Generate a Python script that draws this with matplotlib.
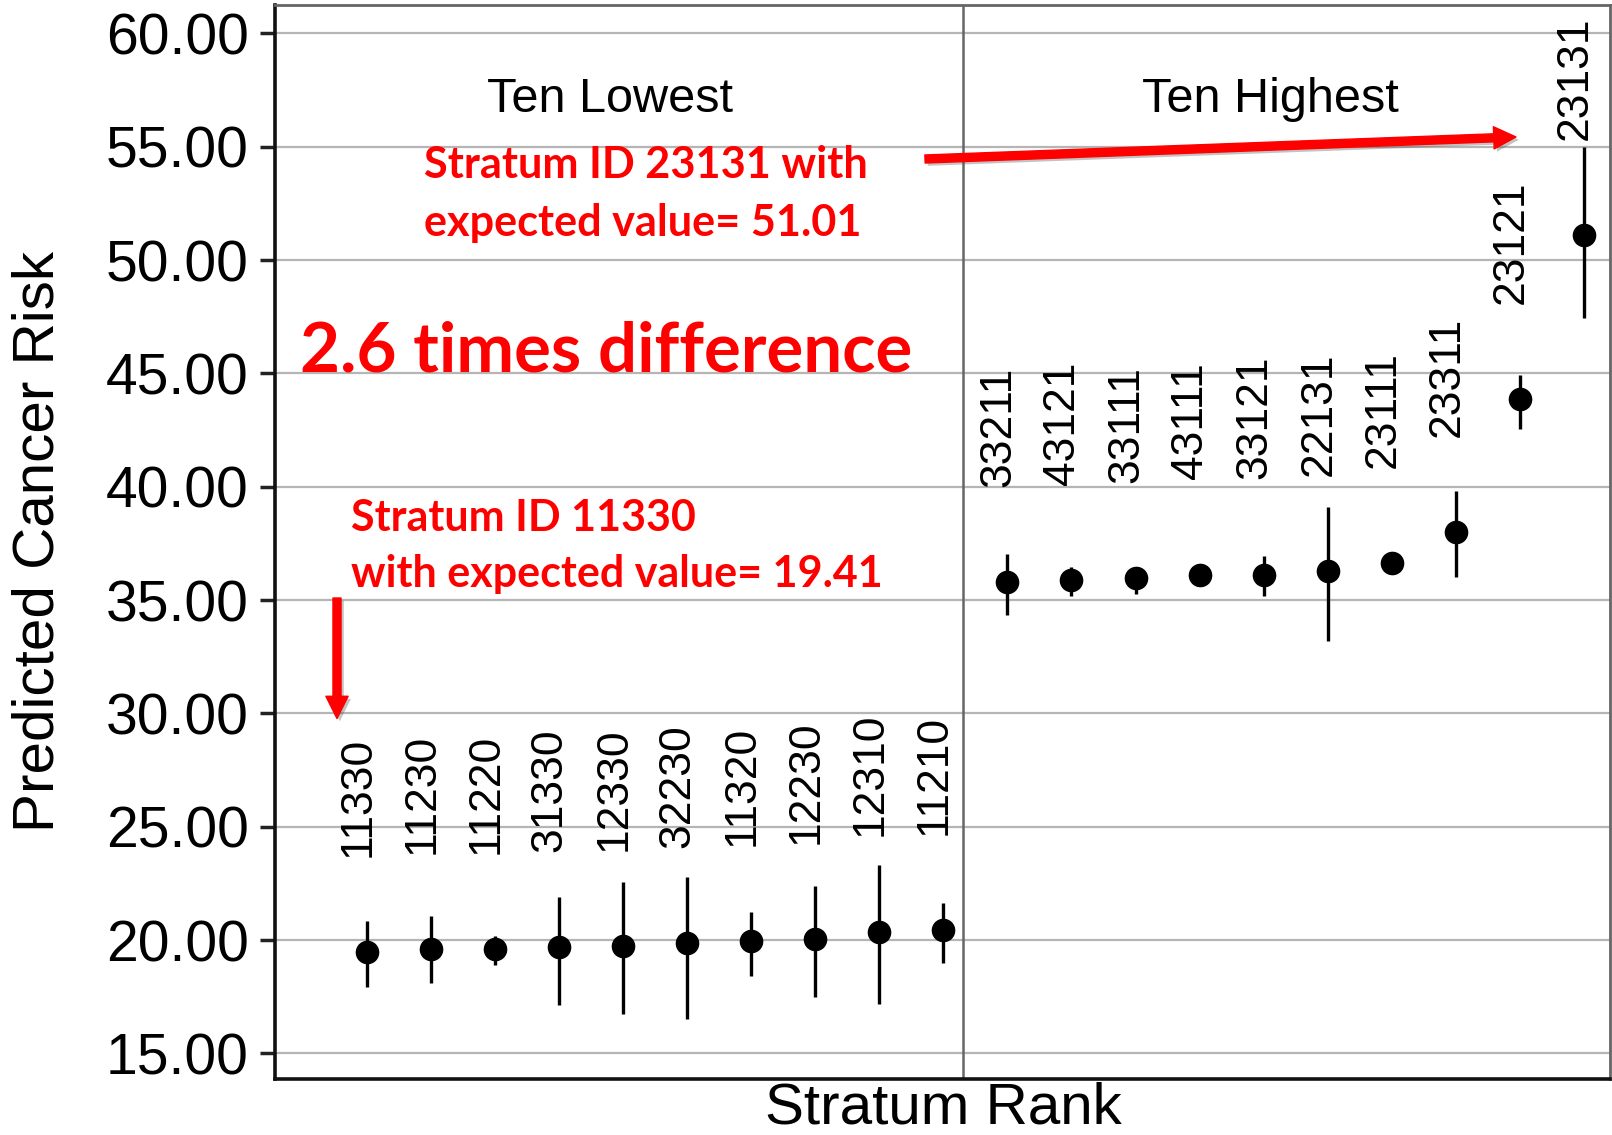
import matplotlib
matplotlib.use("Agg")
import matplotlib.pyplot as plt
from matplotlib.patches import FancyArrowPatch
import matplotlib.patheffects as pe

# ---------------- data ----------------
strata_low = ['11330', '11230', '11220', '31330', '12330', '32230', '11320', '12230', '12310', '11210']
est_low = [19.48, 19.59, 19.59, 19.68, 19.75, 19.85, 19.96, 20.03, 20.37, 20.44]
lo_low = [17.94, 18.09, 18.90, 17.13, 16.74, 16.50, 18.41, 17.47, 17.18, 19.00]
hi_low = [20.85, 21.07, 20.18, 21.91, 22.57, 22.79, 21.25, 22.40, 23.31, 21.65]

strata_high = ['33211', '43121', '33111', '43111', '33121', '22131', '23111', '23311', '23121', '23131']
est_high = [35.78, 35.88, 35.97, 36.12, 36.12, 36.29, 36.63, 38.01, 43.87, 51.10]
lo_high = [34.35, 35.19, 35.26, 35.95, 35.19, 33.20, 36.45, 36.00, 42.53, 47.43]
hi_high = [37.03, 36.47, 36.29, 36.30, 36.95, 39.12, 36.80, 39.80, 44.94, 55.00]

rank_low = list(range(1, 11))
rank_high = list(range(11, 21))

yticks = [15, 20, 25, 30, 35, 40, 45, 50, 55, 60]
panel_titles = ['Ten Lowest', 'Ten Highest']
ylabel = 'Predicted Cancer Risk'
xlabel = 'Stratum Rank'

# ---------------- figure ----------------
W, H = 1612, 1135
fig = plt.figure(figsize=(W / 100, H / 100), dpi=100)
ax = fig.add_axes([275 / W, 1 - 1079 / H, (1610 - 275) / W, (1079 - 5) / H])

sans = ['Liberation Sans', 'DejaVu Sans']
red_font = ['Lato', 'DejaVu Sans']

ax.set_xlim(-0.431, 20.405)
ax.set_ylim(13.87, 61.25)

ax.set_yticks(yticks)
ax.set_yticklabels(['%.2f' % v for v in yticks], fontsize=41, family=sans)
ax.tick_params(axis='y', length=11, width=2.5, pad=8, color='#222222')
ax.set_xticks([])
ax.yaxis.grid(True, color='#b5b5b5', lw=1.6)
ax.set_axisbelow(True)

for s in ['left', 'bottom']:
    ax.spines[s].set_color('#111111')
    ax.spines[s].set_linewidth(2.6)
for s in ['top', 'right']:
    ax.spines[s].set_color('#666666')
    ax.spines[s].set_linewidth(2.0)

ax.axvline(10.30, color='#666666', lw=1.8, zorder=1)

# error bars and points
for xs, est, lo, hi, labs in [(rank_low, est_low, lo_low, hi_low, strata_low),
                              (rank_high, est_high, lo_high, hi_high, strata_high)]:
    ax.vlines(xs, lo, hi, color='black', lw=2.4, zorder=3)
    ax.plot(xs, est, 'o', color='black', ms=16, zorder=4)
    for x, e, lab in zip(xs, est, labs):
        ax.text(x + 0.04, e + 4.2, lab, rotation=90, rotation_mode='anchor',
                ha='left', va='baseline', fontsize=32, family=sans, zorder=5)

# panel titles
ax.text(4.80, 56.54, panel_titles[0], ha='center', va='baseline', fontsize=35, family=sans)
ax.text(15.11, 56.54, panel_titles[1], ha='center', va='baseline', fontsize=35, family=sans)

# axis labels
fig.text(38.6 / W, 1 - 541.5 / H, ylabel, rotation=90, ha='center', va='center',
         fontsize=42, family=sans)
fig.text(943.3 / W, 1 - 1123.5 / H, xlabel, ha='center', va='baseline',
         fontsize=42, family=sans)

# ---------------- red annotations ----------------
renderer = fig.canvas.get_renderer()


def fitted_lines(lines, left, baselines, target_width):
    t0 = fig.text(0, 0, lines[0], fontsize=30, fontweight='bold', family=red_font)
    w = t0.get_window_extent(renderer).width
    t0.remove()
    size = 30 * target_width / w
    for txt, b in zip(lines, baselines):
        fig.text(left / W, 1 - b / H, txt, ha='left', va='baseline', fontsize=size,
                 fontweight='bold', color='#ff0000', family=red_font)


fitted_lines(['Stratum ID 23131 with', 'expected value= 51.01'], 424, [178.3, 236.0], 867.6 - 424)
fitted_lines(['2.6 times difference'], 300, [371.7], 912 - 300)
fitted_lines(['Stratum ID 11330', 'with expected value= 19.41'], 351, [530.7, 586.7], 696 - 351)

shadow = [pe.SimplePatchShadow(offset=(2, -2), shadow_rgbFace='#555555', alpha=0.35), pe.Normal()]


def red_arrow(p0, p1):
    a = FancyArrowPatch((p0[0] / W, 1 - p0[1] / H), (p1[0] / W, 1 - p1[1] / H),
                        transform=fig.transFigure, arrowstyle='simple,head_width=16,head_length=16,tail_width=5.8',
                        mutation_scale=1, color='#ff0000', shrinkA=0, shrinkB=0, zorder=10)
    a.set_path_effects(shadow)
    fig.add_artist(a)


red_arrow((925, 159), (1516, 137))
red_arrow((337, 598), (337, 718.5))

fig.savefig('out.png', dpi=100)
